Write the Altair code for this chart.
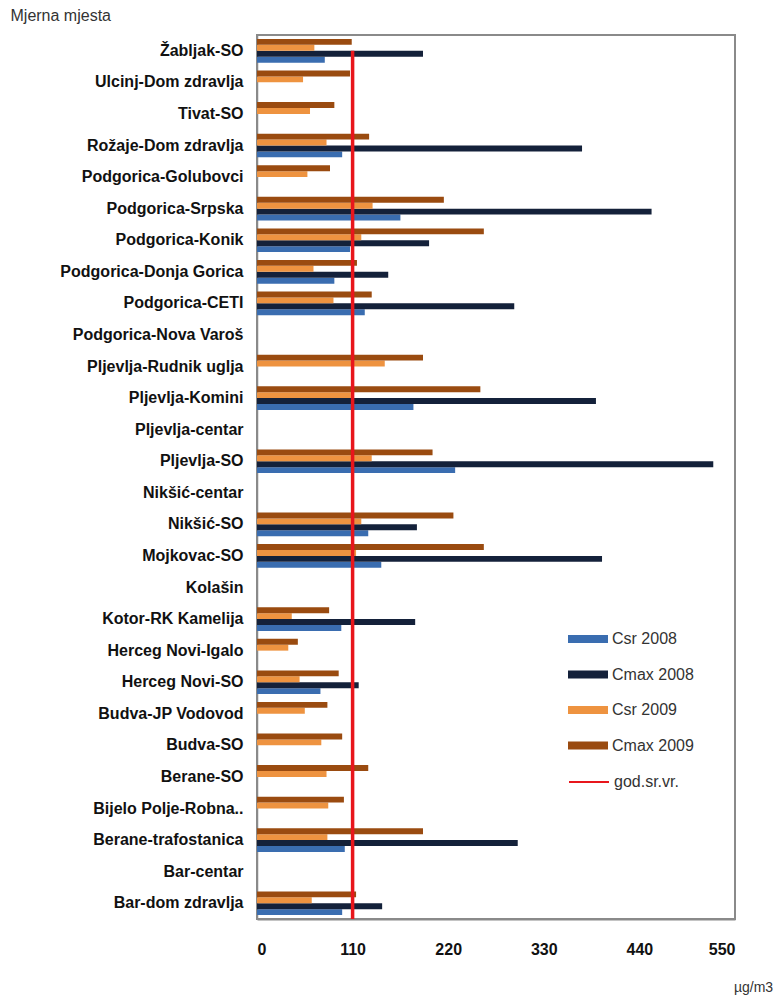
import altair as alt
import pandas as pd

# Monitoring sites, listed top to bottom
categories = [
    "Žabljak-SO", "Ulcinj-Dom zdravlja", "Tivat-SO", "Rožaje-Dom zdravlja",
    "Podgorica-Golubovci", "Podgorica-Srpska", "Podgorica-Konik",
    "Podgorica-Donja Gorica", "Podgorica-CETI", "Podgorica-Nova Varoš",
    "Pljevlja-Rudnik uglja", "Pljevlja-Komini", "Pljevlja-centar", "Pljevlja-SO",
    "Nikšić-centar", "Nikšić-SO", "Mojkovac-SO", "Kolašin", "Kotor-RK Kamelija",
    "Herceg Novi-Igalo", "Herceg Novi-SO", "Budva-JP Vodovod", "Budva-SO",
    "Berane-SO", "Bijelo Polje-Robna..", "Berane-trafostanica", "Bar-centar",
    "Bar-dom zdravlja",
]

# Concentrations in µg/m3 (None = no measurement)
csr_2008 = [78, None, None, 98, None, 165, 107, 89, 124, None, None, 180, None, 228,
            None, 128, 143, None, 97, None, 73, None, None, None, None, 101, None, 98]
cmax_2008 = [191, None, None, 374, None, 454, 198, 151, 296, None, None, 390, None, 525,
             None, 184, 397, None, 182, None, 117, None, None, None, None, 300, None, 144]
csr_2009 = [66, 53, 61, 80, 58, 133, 120, 65, 88, None, 147, 108, None, 132,
            None, 120, 114, None, 40, 36, 49, 55, 74, 80, 82, 81, None, 63]
cmax_2009 = [109, 107, 89, 129, 84, 215, 261, 115, 132, None, 191, 257, None, 202,
             None, 226, 261, None, 83, 47, 94, 81, 98, 128, 100, 191, None, 114]

annual_limit = 110
limit_label = "god.sr.vr."

series_names = ["Csr 2008", "Cmax 2008", "Csr 2009", "Cmax 2009"]
series_values = [csr_2008, cmax_2008, csr_2009, cmax_2009]
series_colors = ["#3a6db0", "#14213a", "#ee9340", "#9a4b10"]
# order of the bars inside each group, top to bottom
bar_order = ["Cmax 2009", "Csr 2009", "Cmax 2008", "Csr 2008"]

x_ticks = [0, 110, 220, 330, 440, 550]

rows = []
for name, vals in zip(series_names, series_values):
    for cat, v in zip(categories, vals):
        if v is not None:
            rows.append({"site": cat, "series": name, "value": v})
df = pd.DataFrame(rows)

W, H = 478, 884

y_scale = alt.Scale(domain=categories, paddingInner=0.25, paddingOuter=0.125)

bars = alt.Chart(df).mark_bar().encode(
    x=alt.X(
        "value:Q",
        scale=alt.Scale(domain=[0, 550], nice=False, zero=True),
        axis=alt.Axis(
            values=x_ticks, grid=False, ticks=False, labelPadding=22,
            labelFontSize=16, labelFontWeight="bold", labelColor="#111",
            domainColor="#8a8a8a", domainWidth=2,
            title="µg/m3", titleFontSize=14, titleFontWeight="normal",
            titleColor="#333", titleX=496, titleY=68,
            titleAlign="center", titleBaseline="middle",
        ),
    ),
    y=alt.Y(
        "site:N", sort=categories, scale=y_scale,
        axis=alt.Axis(
            ticks=False, labelPadding=14, labelFontSize=16, labelFontWeight="bold",
            labelColor="#111", labelLimit=260, domainColor="#8a8a8a",
            domainWidth=1.5,
            title="Mjerna mjesta", titleAngle=0, titleAlign="left",
            titleBaseline="middle", titleX=-247, titleY=-20, titleFontSize=16,
            titleFontWeight="normal", titleColor="#333",
        ),
    ),
    yOffset=alt.YOffset("series:N", sort=bar_order,
                        scale=alt.Scale(domain=bar_order, paddingInner=0)),
    color=alt.Color(
        "series:N",
        scale=alt.Scale(domain=series_names, range=series_colors),
        legend=alt.Legend(
            title=None, orient="none", legendX=311, legendY=584,
            symbolType="M-1,-0.2H1V0.2H-1Z", symbolSize=1600, symbolStrokeWidth=0,
            labelFontSize=16, labelColor="#333", labelOffset=4, rowPadding=7.5,
        ),
    ),
)

# annual limit line, drawn from the first site's band centre down to the axis
limit_df = pd.DataFrame({"limit": [annual_limit], "label": [limit_label]})
first_site_centre = f"scale('y', '{categories[0]}') + bandwidth('y') / 2"

limit_line = alt.Chart(limit_df).mark_rule(strokeWidth=3.5).encode(
    x=alt.X("limit:Q"),
    y=alt.value({"expr": first_site_centre}),
    y2=alt.value({"expr": "height"}),
    stroke=alt.Stroke(
        "label:N",
        scale=alt.Scale(domain=[limit_label], range=["#e8161c"]),
        legend=alt.Legend(
            title=None, orient="none", legendX=311, legendY=726,
            symbolType="stroke", symbolSize=1600, symbolStrokeWidth=2,
            labelFontSize=16, labelColor="#333", labelOffset=4,
        ),
    ),
)

chart = (
    alt.layer(bars, limit_line)
    .properties(
        width=W, height=H,
        autosize=alt.AutoSizeParams(type="none"),
        padding={"left": 257, "top": 35, "right": 42, "bottom": 79},
    )
    .configure(font="Liberation Sans")
    .configure_view(stroke="#8a8a8a", strokeWidth=2)
)

chart.save("out.html", embed_options={"renderer": "svg", "actions": False})
